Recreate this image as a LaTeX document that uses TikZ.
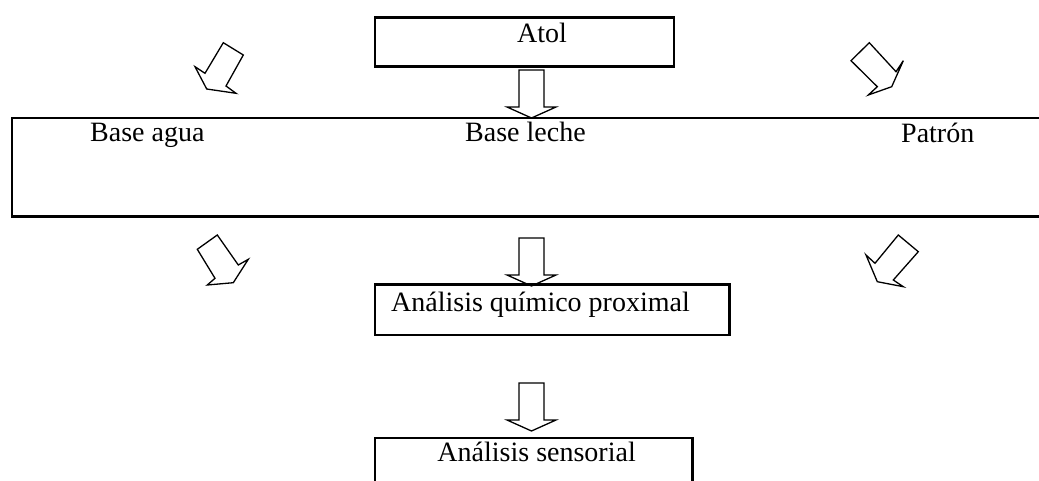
\documentclass[tikz,border=0pt]{standalone}
\usepackage{fontspec}
\setmainfont{Liberation Serif}

\begin{document}
\begin{tikzpicture}[x=1pt, y=-1pt]
    \tikzstyle{box}=[draw, line width=2.6pt, inner sep=0pt, outer sep=0pt, anchor=north west]
    \tikzstyle{lbl}=[inner sep=0pt, font=\fontsize{28}{34}\selectfont]
    \tikzstyle{arrow}=[draw, line width=1.3pt, line join=miter]
    \useasboundingbox (0,0) rectangle (1039,481);
    \clip (0,0) rectangle (1039,481);
    % boxes
    \node [box, minimum width=299, minimum height=49] (atol) at (375,17.3) {};
    \node [box, minimum width=1060, minimum height=98.5] (bases) at (12,118) {};
    \node [box, minimum width=354.7, minimum height=50.3] (quimico) at (375,284.7) {};
    \node [box, minimum width=317.3, minimum height=60] (sensorial) at (375,438) {};
    % texts
    \node [lbl, anchor=base west] (atoltxt) at (517,43) {Atol};
    \node [lbl, anchor=base west] (agua) at (90,142) {Base agua};
    \node [lbl, anchor=base west] (leche) at (465,142) {Base leche};
    \node [lbl, anchor=base west] (patron) at (901,143) {Patrón};
    \node [lbl, anchor=base east] (quimicotxt) at (690,311) {Análisis químico proximal};
    \node [lbl, anchor=base east] (sensorialtxt) at (636,461) {Análisis sensorial};
    % straight block arrows
    \foreach \y in {70,238,383}
      \draw [arrow] (519,\y) -- (544,\y) -- (544,\y+37) -- (556,\y+37)
        -- (531.5,\y+48) -- (507,\y+37) -- (519,\y+37) -- cycle;
    % tilted block arrows
    \draw [arrow] (223.3,42.7) -- (243.3,55) -- (226,86) -- (236,93.3)
      -- (206.7,89) -- (195,66.7) -- (205,73.3) -- cycle;
    \draw [arrow] (869.3,42.7) -- (896,71.7) -- (903.3,60.7) -- (891.7,86.7)
      -- (868.3,95) -- (877.3,86.7) -- (851,60.7) -- cycle;
    \draw [arrow] (217.3,235) -- (238.3,265) -- (248.3,259.3) -- (233.3,282.7)
      -- (207.3,285) -- (215,278.3) -- (197.3,249.3) -- cycle;
    \draw [arrow] (898.3,235) -- (918.3,251.7) -- (893.3,280) -- (903.3,286.7)
      -- (877.3,281.7) -- (866,255) -- (875,263.3) -- cycle;
\end{tikzpicture}
\end{document}
